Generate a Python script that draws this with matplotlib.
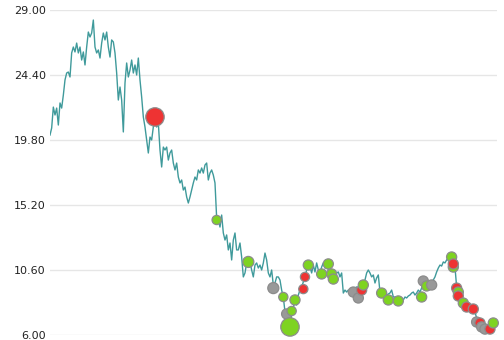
import matplotlib
matplotlib.use('Agg')
import matplotlib.pyplot as plt
import numpy as np

# daily close, one value per trading day
close = [
    20.15, 20.65, 22.13, 21.57, 22.06, 20.86, 22.42, 22.06, 22.98, 24.05,
    24.54, 24.61, 24.26, 25.96, 26.38, 26.03, 26.66, 25.96, 26.38, 25.46,
    26.03, 25.11, 26.38, 27.44, 27.09, 27.37, 28.29, 26.38, 25.96, 26.17,
    25.60, 26.66, 27.37, 26.88, 27.44, 26.38, 25.67, 26.88, 26.74, 25.96,
    24.54, 22.63, 23.55, 22.63, 20.37, 23.83, 25.25, 24.26, 24.75, 25.46,
    24.54, 25.11, 24.40, 25.60, 24.05, 22.84, 21.43, 20.72, 19.80, 18.88,
    20.01, 19.80, 20.72, 21.07, 20.72, 21.00, 19.09, 17.89, 19.30, 19.09,
    19.30, 18.38, 18.88, 19.09, 18.17, 17.68, 18.17, 17.18, 16.76, 16.97,
    16.26, 16.47, 15.77, 15.34, 15.77, 16.26, 16.76, 17.18, 16.97, 17.68,
    17.46, 17.82, 17.46, 18.03, 18.17, 16.97, 17.46, 17.68, 17.32, 16.76,
    14.28, 14.14, 13.64, 14.49, 13.22, 12.72, 13.08, 12.02, 12.51, 11.31,
    12.72, 13.22, 12.02, 12.02, 12.51, 11.52, 10.11, 10.39, 11.10, 10.81,
    11.17, 10.60, 10.11, 10.95, 11.10, 10.74, 10.95, 10.60, 11.10, 11.80,
    11.31, 10.39, 10.11, 10.60, 9.54, 9.68, 10.11, 10.11, 9.89, 9.18,
    8.69, 7.63, 7.06, 6.71, 6.57, 7.42, 7.91, 8.48, 8.12, 8.83,
    9.18, 9.40, 9.75, 10.11, 10.60, 11.10, 10.81, 10.39, 10.95, 10.46,
    11.10, 10.60, 10.39, 10.81, 11.10, 10.74, 11.10, 10.60, 10.39, 10.46,
    10.11, 10.39, 10.39, 10.46, 10.11, 10.39, 8.97, 9.18, 9.04, 9.18,
    9.18, 9.32, 9.18, 9.32, 9.40, 9.32, 9.40, 9.54, 9.68, 9.89,
    10.39, 10.60, 10.39, 10.11, 10.25, 9.68, 10.04, 10.25, 9.04, 8.97,
    8.69, 8.76, 8.83, 8.90, 8.97, 9.18, 8.69, 8.69, 8.62, 8.48,
    8.48, 8.62, 8.48, 8.69, 8.62, 8.76, 8.83, 8.97, 9.04, 8.83,
    8.97, 9.18, 9.04, 9.32, 9.61, 9.54, 9.40, 9.54, 9.54, 9.68,
    9.89, 10.11, 10.46, 10.74, 10.95, 10.88, 11.17, 11.10, 11.31, 11.45,
    11.52, 11.17, 10.95, 10.81, 9.40, 9.18, 8.83, 8.48, 8.26, 8.12,
    7.98, 7.91, 7.91, 7.84, 7.77, 7.63, 7.20, 6.92, 6.85, 6.57,
    6.50, 6.42, 6.35, 6.42, 6.42, 6.64, 6.85,
]

# signals: day index, price, kind, volume
sig_day = [63, 100, 119, 134, 140, 142, 144, 145, 147, 152, 153, 155, 163, 167,
           169, 170, 182, 185, 187, 188, 199, 203, 209, 223, 224, 226, 229,
           241, 242, 242, 244, 245, 245, 248, 250, 254, 256, 258, 259, 261,
           264, 266]
sig_price = [21.43, 14.14, 11.17, 9.32, 8.69, 7.49, 6.57, 7.70, 8.48, 9.25,
             10.11, 10.95, 10.32, 11.03, 10.32, 9.96, 9.04, 8.62, 9.18, 9.54,
             8.97, 8.48, 8.41, 8.69, 9.82, 9.47, 9.54, 11.52, 10.81, 11.03,
             9.32, 9.04, 8.76, 8.26, 7.98, 7.84, 6.92, 6.85, 6.57, 6.42,
             6.42, 6.85]
sig_kind = ['sell', 'buy', 'buy', 'hold', 'buy', 'hold', 'buy', 'buy', 'buy',
            'sell', 'sell', 'buy', 'buy', 'buy', 'buy', 'buy', 'hold', 'hold',
            'sell', 'buy', 'buy', 'buy', 'buy', 'buy', 'hold', 'buy', 'hold',
            'buy', 'buy', 'sell', 'sell', 'buy', 'sell', 'buy', 'sell', 'sell',
            'hold', 'sell', 'hold', 'hold', 'sell', 'buy']
sig_vol = [2, 1, 1.2, 1.2, 1, 1.1, 2, 1, 1.1, 1, 1, 1.1, 1.1, 1.1, 1.1, 1.1,
           1.1, 1.1, 1.1, 1.1, 1.1, 1.1, 1.1, 1.1, 1.1, 1.1, 1.1, 1.1, 1.1,
           1.1, 1.1, 1.1, 1.1, 1.1, 1.1, 1.1, 1.1, 1.1, 1.1, 1.1, 1.1, 1.1]

y_ticks = [6.00, 10.60, 15.20, 19.80, 24.40, 29.00]

kind_colors = {'buy': '#7ed321', 'sell': '#ee3333', 'hold': '#999999'}

fig = plt.figure(figsize=(5.04, 3.40), dpi=100)
ax = fig.add_axes([50 / 504, 5 / 340, 447 / 504, 325 / 340])

days = np.arange(len(close))
ax.plot(days, close, color='#3f9a9b', linewidth=1.0, zorder=2)

colors = [kind_colors[k] for k in sig_kind]
sizes = [44 * v ** 2 for v in sig_vol]
ax.scatter(sig_day, sig_price, s=sizes, c=colors, edgecolors='#8c8c8c',
           linewidths=0.9, zorder=3, clip_on=False)

ax.set_xlim(0, (len(close) - 1) * 447 / 443.3)
ax.set_ylim(y_ticks[0], y_ticks[-1])
ax.set_yticks(y_ticks)
ax.set_yticklabels(['%.2f' % t for t in y_ticks], fontsize=8, color='#222222')
ax.set_xticks([])
ax.tick_params(axis='y', length=0, pad=3)
ax.grid(axis='y', color='#e6e6e6', linewidth=1)
ax.set_axisbelow(True)
for s in ax.spines.values():
    s.set_visible(False)

plt.savefig('out.png', dpi=100)
